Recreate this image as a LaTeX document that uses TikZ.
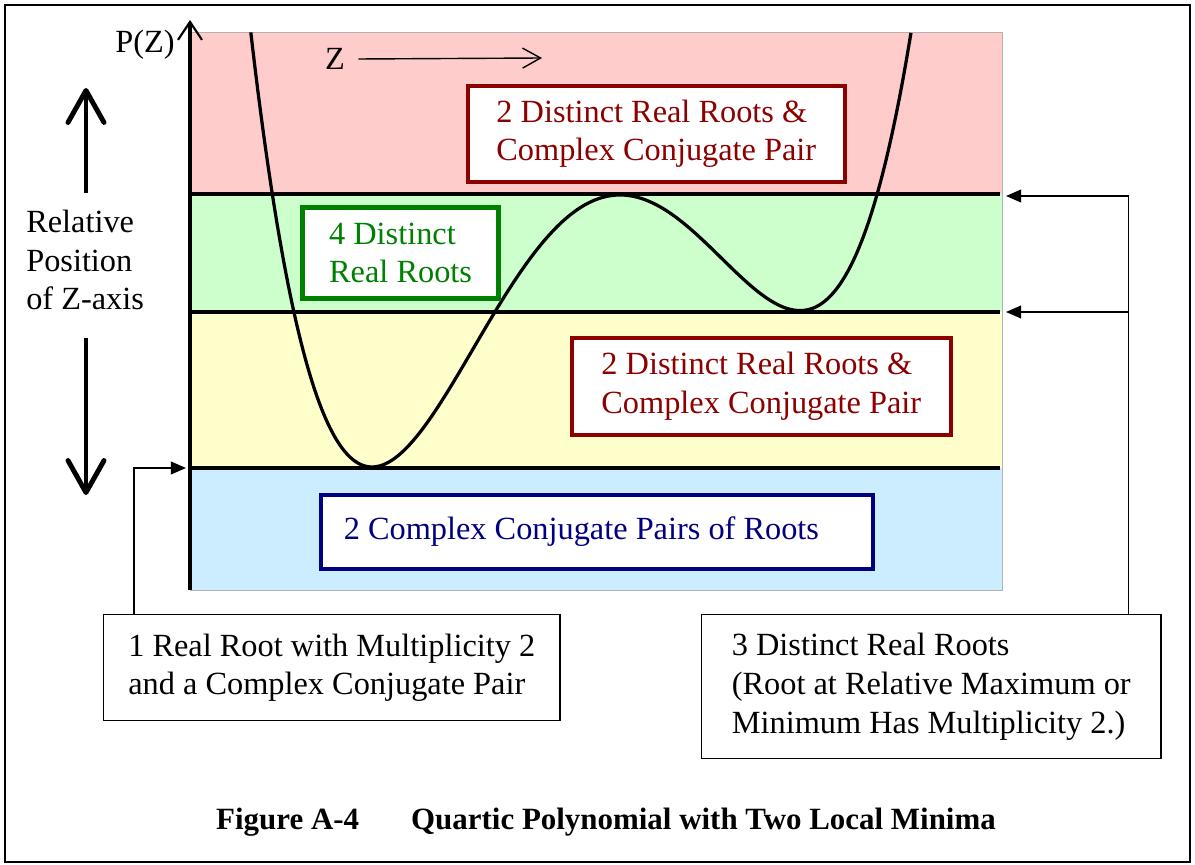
\documentclass[tikz,border=0pt]{standalone}
\usepackage{fontspec}
\setmainfont{Liberation Serif}
\usepackage{tikz}
\usetikzlibrary{arrows.meta,positioning,calc}
\usepackage{xcolor}

\definecolor{rootred}{RGB}{140,0,0}
\definecolor{rootgreen}{RGB}{0,128,0}
\definecolor{rootblue}{RGB}{0,0,128}
\definecolor{bandred}{RGB}{255,204,204}
\definecolor{bandgreen}{RGB}{204,255,204}
\definecolor{bandyellow}{RGB}{255,255,204}
\definecolor{bandblue}{RGB}{204,236,255}

\newcommand{\lblfont}{\fontsize{23}{27.5}\selectfont}
\newcommand{\capfont}{\fontsize{22}{26}\selectfont\bfseries}

\begin{document}
\begin{tikzpicture}[x=0.025cm, y=-0.025cm,
  rootbox/.style={draw, fill=white, anchor=north west, align=left, font=\lblfont, inner sep=0pt},
  plain/.style={font=\lblfont, inner sep=0pt},
  divider/.style={line width=2.4pt},
  curve/.style={line width=2.3pt, line join=round},
  conn/.style={line width=1.2pt, -{Triangle[length=0.38cm, width=0.32cm]}},
  bigarrow/.style={line width=3.5pt, -{Straight Barb[length=0.8cm, width=0.9cm, round]}}]
  \useasboundingbox (0,0) rectangle (1195,865);

  %% Frame
  \draw[line width=1.4pt] (5,5) rectangle (1190,862);

  %% Bands of the Z-axis position
  \fill[bandred]    (190,32)  rectangle (1002,194);
  \fill[bandgreen]  (190,194) rectangle (1002,312);
  \fill[bandyellow] (190,312) rectangle (1002,468);
  \fill[bandblue]   (190,468) rectangle (1002,590);
  \draw[gray!60, line width=0.6pt] (190,32) rectangle (1002,590);

  %% Quartic with two local minima
  \draw[curve] plot[domain=-1.212:5.39, samples=160, smooth]
    ({372+100*\x}, {467-35.2*(0.25*\x*\x*\x*\x-2.25333*\x*\x*\x+5.3072*\x*\x)});

  %% Band boundaries
  \draw[divider] (190,194) -- (1000,194);
  \draw[divider] (190,312) -- (1000,312);
  \draw[divider] (190,468) -- (1000,468);

  %% Axis
  \draw[line width=3pt, -{Straight Barb[length=0.45cm, width=0.6cm, line width=1.5pt]}] (190,590) -- (190,20);
  \node[plain, anchor=east] (pzlab) at (175,45) {P(Z)};
  \node[plain] (zlab) at (335,59) {Z};
  \coordinate (zend) at (542,58);
  \draw[line width=1pt, -{Straight Barb[length=0.45cm, width=0.5cm]}] ([xshift=0.33cm]zlab.east) -- (zend);

  %% Relative position arrows
  \node[plain, anchor=west, align=left] (relpos) at (26,260) {Relative\\Position\\of Z-axis};
  \draw[bigarrow] (86,193) -- (86,88);
  \draw[bigarrow] (86,338) -- (86,495);

  %% Root boxes
  \node[rootbox, draw=rootred, text=rootred, line width=2.5pt,
        minimum width=9.425cm, minimum height=2.4cm] (redtop) at (466,84)
        {2 Distinct Real Roots \&\\Complex Conjugate Pair};
  \node[rootbox, draw=rootgreen, text=rootgreen, line width=3.6pt,
        minimum width=4.9cm, minimum height=2.275cm] (four) at (300,205)
        {4 Distinct\\Real Roots};
  \node[rootbox, draw=rootred, text=rootred, line width=2.5pt,
        minimum width=9.475cm, minimum height=2.425cm] (redlow) at (570,336)
        {2 Distinct Real Roots \&\\Complex Conjugate Pair};
  \node[rootbox, draw=rootblue, text=rootblue, line width=2.5pt, inner xsep=0.575cm,
        align=flush left, text width=12.65cm, minimum height=1.85cm] (pairs) at (319,493)
        {2 Complex Conjugate Pairs of Roots};

  %% Notes below
  \node[rootbox, line width=1pt, minimum width=11.4cm, minimum height=2.65cm] (mult) at (103,614)
        {1 Real Root with Multiplicity 2\\and a Complex Conjugate Pair};
  \node[rootbox, line width=1pt, minimum width=11.475cm, minimum height=3.6cm] (three) at (701,614)
        {3 Distinct Real Roots\\(Root at Relative Maximum or\\Minimum Has Multiplicity 2.)};

  %% Connectors
  \coordinate (dbltip) at (186,468);
  \coordinate (maxtip) at (1006,196);
  \coordinate (mintip) at (1006,312);
  \coordinate (rjoin) at ([xshift=-0.825cm]three.north east);
  \draw[conn] ([xshift=0.775cm]mult.north west) |- (dbltip);
  \draw[conn] (rjoin) |- (maxtip);
  \draw[conn] (rjoin |- mintip) -- (mintip);

  %% Caption
  \node[font=\capfont, inner sep=0pt] (caption) at (606,822)
        {Figure A-4\hspace{1.3cm}Quartic Polynomial with Two Local Minima};
\end{tikzpicture}
\end{document}
